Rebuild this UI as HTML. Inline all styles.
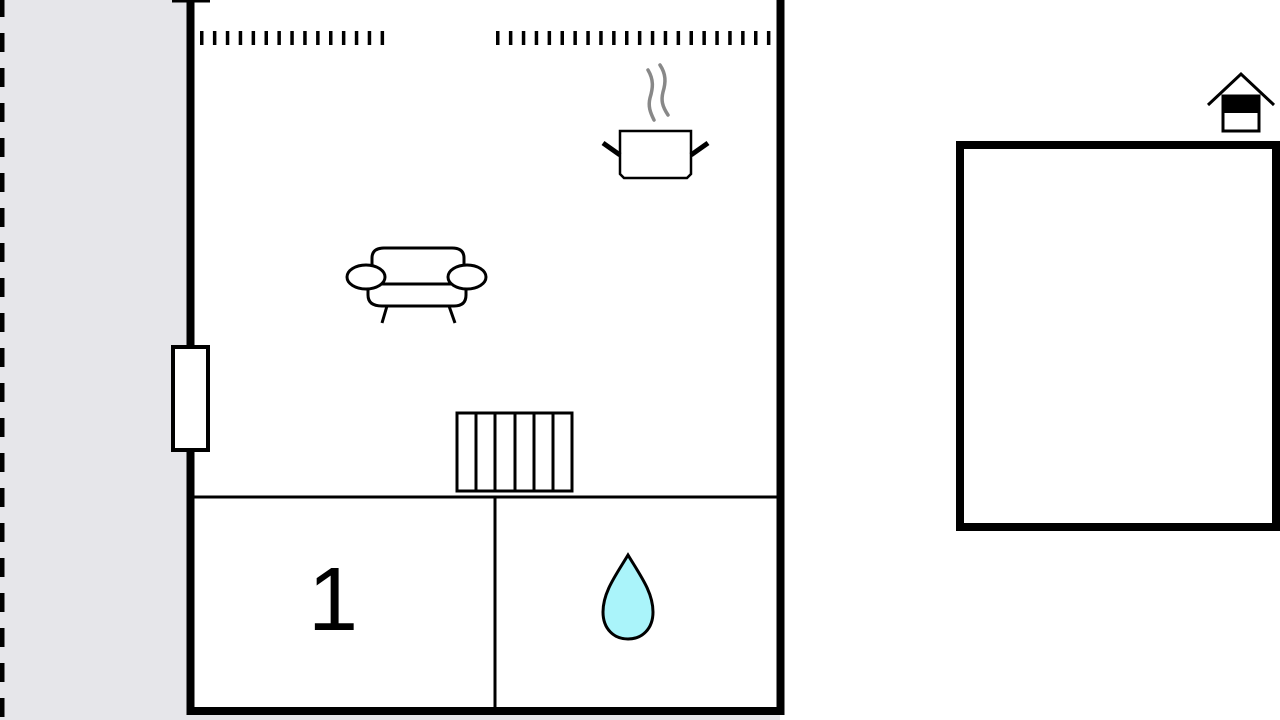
<!DOCTYPE html>
<html><head><style>html,body{margin:0;padding:0;background:#fff;width:1280px;height:720px;overflow:hidden}</style></head>
<body>
<svg width="1280" height="720" viewBox="0 0 1280 720" xmlns="http://www.w3.org/2000/svg">
<rect x="0" y="0" width="188" height="720" fill="#e6e6ea"/>
<rect x="180" y="714" width="600" height="6" fill="#e6e6ea"/>
<line x1="2" y1="-2" x2="2" y2="720" stroke="#000" stroke-width="5" stroke-dasharray="19 16"/>
<rect x="190.5" y="-10" width="590" height="721" fill="#fff" stroke="#000" stroke-width="8"/>
<line x1="172" y1="0" x2="210" y2="0" stroke="#000" stroke-width="5"/>
<line x1="194" y1="497" x2="777" y2="497" stroke="#000" stroke-width="3"/>
<line x1="495" y1="497" x2="495" y2="707" stroke="#000" stroke-width="3"/>
<rect x="173" y="347" width="35" height="103" fill="#fff" stroke="#000" stroke-width="4"/>
<line x1="200" y1="38" x2="388" y2="38" stroke="#000" stroke-width="14" stroke-dasharray="3.5 9.4"/>
<line x1="496" y1="38" x2="775" y2="38" stroke="#000" stroke-width="14" stroke-dasharray="3.5 9.4"/>
<path d="M654 120 C650 112 648 106 650 98 C653 88 654 80 648 70 M668 115 C662 106 661 100 663 92 C666 82 666 74 660 65" fill="none" stroke="#888" stroke-width="3.5" stroke-linecap="round"/>
<path d="M620 131 H691 V174 L687 178 H624 L620 174 Z" fill="#fff" stroke="#000" stroke-width="2.5"/>
<line x1="603" y1="143" x2="620" y2="155" stroke="#000" stroke-width="5"/>
<line x1="708" y1="143" x2="691" y2="155" stroke="#000" stroke-width="5"/>
<g fill="#fff" stroke="#000" stroke-width="3">
<path d="M372 270 V258 Q372 248 384 248 H452 Q464 248 464 258 V270"/>
<path d="M368 284 V295 Q368 306 382 306 H454 Q466 306 466 295 V284"/>
<line x1="380" y1="284" x2="456" y2="284"/>
<ellipse cx="366" cy="277" rx="19" ry="12"/>
<ellipse cx="467" cy="277" rx="19" ry="12"/>
<line x1="387" y1="306" x2="382" y2="323"/>
<line x1="449" y1="306" x2="455" y2="323"/>
</g>
<g fill="#fff" stroke="#000" stroke-width="3">
<rect x="457" y="413" width="115" height="78"/>
<line x1="476" y1="413" x2="476" y2="491"/>
<line x1="495" y1="413" x2="495" y2="491"/>
<line x1="515" y1="413" x2="515" y2="491"/>
<line x1="534" y1="413" x2="534" y2="491"/>
<line x1="553" y1="413" x2="553" y2="491"/>
</g>
<text x="333" y="630" font-family="Liberation Sans, sans-serif" font-size="90" text-anchor="middle">1</text>
<path d="M628 555 C616 575 603 592 603 612 C603 629 614 639 628 639 C642 639 653 629 653 612 C653 592 640 575 628 555 Z" fill="#aaf4fa" stroke="#000" stroke-width="3"/>
<rect x="960" y="145" width="316" height="382" fill="#fff" stroke="#000" stroke-width="8"/>
<path d="M1208 105 L1241 74 L1274 105" fill="none" stroke="#000" stroke-width="3"/>
<rect x="1223" y="96" width="36" height="35" fill="#fff" stroke="#000" stroke-width="3"/>
<rect x="1223" y="96" width="36" height="17" fill="#000"/>
</svg>
</body></html>
